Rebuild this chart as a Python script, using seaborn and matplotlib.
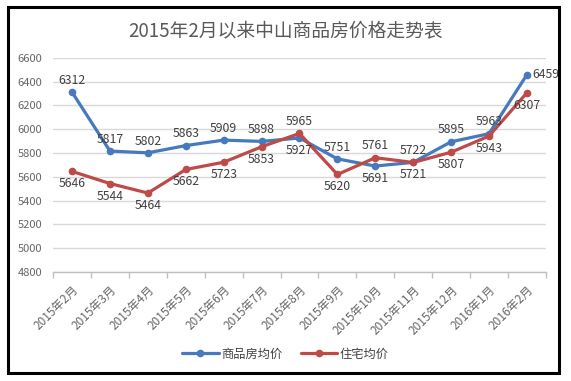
import numpy as np
import pandas as pd
import matplotlib
matplotlib.use('Agg')
import matplotlib.pyplot as plt
from matplotlib.patches import Rectangle
import seaborn as sns

# 数据
months = ['2015年2月', '2015年3月', '2015年4月', '2015年5月', '2015年6月', '2015年7月',
          '2015年8月', '2015年9月', '2015年10月', '2015年11月', '2015年12月',
          '2016年1月', '2016年2月']
commercial = [6312, 5817, 5802, 5863, 5909, 5898, 5927, 5751, 5691, 5722, 5895, 5963, 6459]
residential = [5646, 5544, 5464, 5662, 5723, 5853, 5965, 5620, 5761, 5721, 5807, 5943, 6307]
y_ticks = list(range(4800, 6601, 200))
title = '2015年2月以来中山商品房价格走势表'

# 标签位置：上/下/右
commercial_pos = ['up'] * 6 + ['down', 'up', 'down', 'up', 'up', 'up', 'right']
residential_pos = ['down'] * 6 + ['up', 'down', 'up', 'down', 'down', 'down', 'down']

sns.set_theme(style='white')
plt.rcParams['font.family'] = ['Noto Sans CJK SC', 'DejaVu Sans']
plt.rcParams['axes.unicode_minus'] = False

blue = '#4679BE'
red = '#BE4B48'

df = pd.DataFrame({
    'idx': list(range(len(months))) * 2,
    'price': commercial + residential,
    'series': ['商品房均价'] * len(months) + ['住宅均价'] * len(months),
})

fig = plt.figure(figsize=(5.71, 3.81), dpi=100)
ax = fig.add_axes([0.093, 0.286, 0.863, 0.562])

sns.lineplot(data=df, x='idx', y='price', hue='series', palette=[blue, red],
             marker='o', markersize=5.5, markeredgewidth=0, linewidth=2.3,
             ax=ax, clip_on=False, zorder=3)

ax.set_xlim(-0.5, len(months) - 0.5)
ax.set_ylim(4800, 6600)
ax.set_yticks(y_ticks)
ax.set_yticklabels([str(v) for v in y_ticks], fontsize=8, color='#666666')
ax.yaxis.grid(True, color='#D9D9D9', linewidth=1)
ax.xaxis.grid(False)
ax.tick_params(axis='y', length=0, pad=8)

ax.set_xticks(range(len(months)))
ax.set_xticklabels(months, rotation=45, ha='right', rotation_mode='anchor',
                   fontsize=8.5, color='#666666')
ax.set_xticks(np.arange(-0.5, len(months)), minor=True)
ax.tick_params(axis='x', which='major', length=0, pad=8)
ax.tick_params(axis='x', which='minor', length=4, color='#BFBFBF', width=1, bottom=True)
ax.set_xlabel('')
ax.set_ylabel('')

for s in ['top', 'right', 'left']:
    ax.spines[s].set_visible(False)
ax.spines['bottom'].set_color('#BFBFBF')
ax.spines['bottom'].set_linewidth(1)


def add_labels(values, positions):
    for i, (v, p) in enumerate(zip(values, positions)):
        if p == 'up':
            off, ha = (0, 8.5), 'center'
        elif p == 'down':
            off, ha = (0, -9), 'center'
        else:
            off, ha = (4, 0), 'left'
        ax.annotate(str(v), (i, v), xytext=off, textcoords='offset points',
                    ha=ha, va='center', fontsize=8.8, color='#404040', zorder=5)


add_labels(commercial, commercial_pos)
add_labels(residential, residential_pos)

ax.legend(loc='center', bbox_to_anchor=(0.5, 0.071), bbox_transform=fig.transFigure,
          ncol=2, frameon=False, fontsize=8.8, handlelength=3.0, columnspacing=1.5,
          handletextpad=0.2, labelcolor='#404040')

fig.text(0.5, 0.918, title, ha='center', va='center', fontsize=13.5, color='#595959')

fig.patches.append(Rectangle((0.014, 0.021), 0.965, 0.961, transform=fig.transFigure,
                             fill=False, edgecolor='black', linewidth=2.2))

plt.savefig('out.png', dpi=100)
